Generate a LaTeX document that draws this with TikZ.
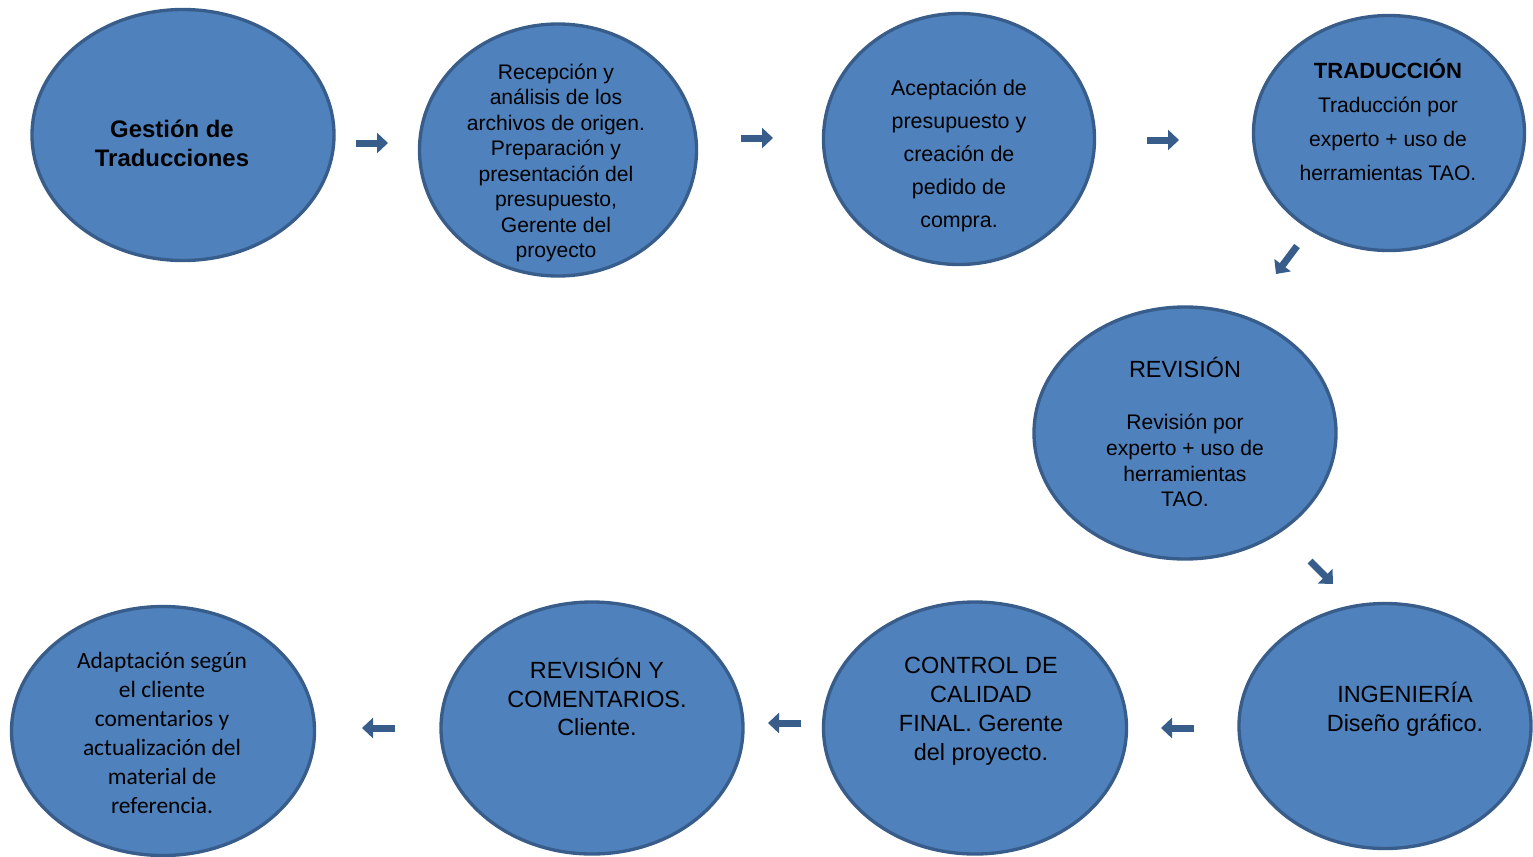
\documentclass[tikz,border=0pt]{standalone}
\usepackage{fontspec}
\setmainfont{Liberation Sans}
\newfontfamily\calibrifont{Carlito}
\usetikzlibrary{shapes.geometric,arrows.meta}
\definecolor{stagefill}{HTML}{4F81BD}
\definecolor{stageline}{HTML}{385D8A}
\newcommand{\smalltxt}{\fontsize{18}{21.8}\selectfont}
\newcommand{\bigtxt}{\fontsize{20}{24.7}\selectfont}
\def\arrowbody{0.21cm}

\begin{document}
\begin{tikzpicture}[x=0.03cm,y=-0.03cm,
  stage/.style={ellipse,draw=stageline,fill=stagefill,line width=0.1cm,inner sep=0pt},
  txt/.style={align=center,text=black,inner sep=0pt},
  flow/.style={draw=stageline,line width=\arrowbody,-{Triangle[length=0.33cm,width=0.6cm]}}]

\useasboundingbox (0,0) rectangle (1533,856);

% GESTION
\node[stage,minimum width=9.06cm,minimum height=7.53cm] (gestion) at (183,135) {};
\node[txt,font=\fontsize{20.4}{24.7}\selectfont\bfseries] (gestion-t) at (172,143) {Gestión de\\Traducciones};

% RECEPCION
\node[stage,minimum width=8.31cm,minimum height=7.56cm] (recepcion) at (558,150) {};
\node[txt,font=\smalltxt] (recepcion-t) at (556,163) {Recepción y\\análisis de los\\archivos de origen.\\Preparación y\\presentación del\\presupuesto,\\Gerente del\\proyecto};

% ACEPTACION
\node[stage,minimum width=8.13cm,minimum height=7.53cm] (aceptacion) at (959,139) {};
\node[txt,font=\fontsize{18.3}{28.2}\selectfont] (aceptacion-t) at (959,156) {Aceptación de\\presupuesto y\\creación de\\pedido de\\compra.};

% TRADUCCION
\node[stage,minimum width=8.13cm,minimum height=7.05cm] (traduccion) at (1389,133) {};
\node[txt,font=\fontsize{18}{28.9}\selectfont] (traduccion-t) at (1388,120) {{\fontsize{18.8}{28.9}\selectfont\bfseries TRADUCCIÓN}\\Traducción por\\experto + uso de\\herramientas TAO.};

% REVISION
\node[stage,minimum width=9.06cm,minimum height=7.56cm] (revision) at (1185,433) {};
\node[txt,font=\smalltxt] (revision-t) at (1185,432) {{\bigtxt REVISIÓN}\\[23pt]Revisión por\\experto + uso de\\herramientas\\TAO.};

% INGENIERIA
\node[stage,minimum width=8.76cm,minimum height=7.35cm] (ingenieria) at (1385,726) {};
\node[txt,font=\bigtxt] (ingenieria-t) at (1405,709) {INGENIERÍA\\Diseño gráfico.};

% CONTROL
\node[stage,minimum width=9.09cm,minimum height=7.56cm] (control) at (975,728) {};
\node[txt,font=\bigtxt] (control-t) at (981,711) {CONTROL DE\\CALIDAD\\FINAL. Gerente\\del proyecto.};

% CLIENTE
\node[stage,minimum width=9.06cm,minimum height=7.56cm] (cliente) at (592,728) {};
\node[txt,font=\bigtxt] (cliente-t) at (597,697) {REVISIÓN Y\\COMENTARIOS.\\Cliente.};

% ADAPTACION
\node[stage,minimum width=9.09cm,minimum height=7.47cm] (adaptacion) at (163,731) {};
\node[txt,font=\calibrifont\bigtxt] (adaptacion-t) at (162,733) {Adaptación según\\el cliente\\comentarios y\\actualización del\\material de\\referencia.};

% ARROWS
\coordinate (a1s) at (356,143); \coordinate (a1e) at (388,143);
\coordinate (a2s) at (741,138); \coordinate (a2e) at (773,138);
\coordinate (a3s) at (1147,140); \coordinate (a3e) at (1179,140);
\coordinate (a4s) at (1297,246); \coordinate (a4e) at (1276,274);
\coordinate (a5s) at (1310,561); \coordinate (a5e) at (1333,584);
\coordinate (a6s) at (1194,728); \coordinate (a6e) at (1161,728);
\coordinate (a7s) at (801,723); \coordinate (a7e) at (768,723);
\coordinate (a8s) at (395,728); \coordinate (a8e) at (362,728);
\foreach \i in {1,...,8}
  \draw[flow] (a\i s) -- (a\i e);
\end{tikzpicture}
\end{document}
